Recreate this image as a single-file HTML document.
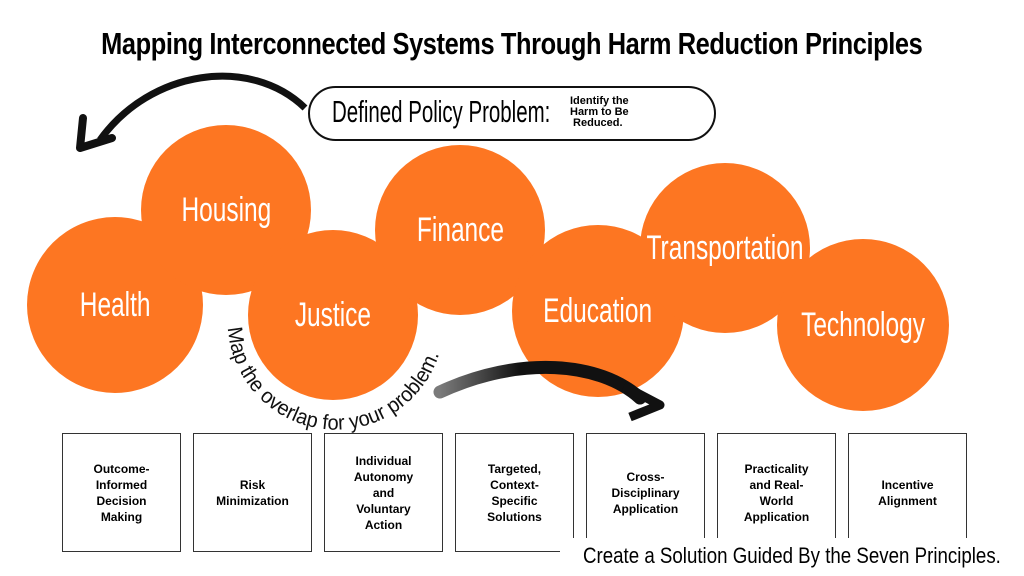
<!DOCTYPE html>
<html><head><meta charset="utf-8"><style>
body{margin:0;width:1024px;height:576px;background:#fff;overflow:hidden;position:relative;font-family:"Liberation Sans",sans-serif}
.t{position:absolute;left:0;width:1024px;top:26px;text-align:center;font-weight:bold;font-size:31px;letter-spacing:-0.5px}
.t span{display:inline-block;transform:scaleX(0.82)}
.pill{position:absolute;left:308px;top:86px;width:404px;height:51px;border:2.5px solid #111;border-radius:28px}
.c{position:absolute;border-radius:50%;background:#fd7622;color:#fff;display:flex;align-items:center;justify-content:center;font-size:34px}
.c span{display:inline-block;transform:scaleX(0.72)}
.b{position:absolute;top:433px;width:117px;height:117px;border:1.5px solid #333;display:flex;align-items:center;justify-content:center;text-align:center;font-weight:bold;font-size:12px;line-height:16px}
.cap{position:absolute;left:560px;top:538px;width:460px;height:38px;background:#fff}
.cap span{position:absolute;left:23px;top:5px;font-size:22px;white-space:nowrap;display:inline-block;transform:scaleX(0.85);transform-origin:0 0}
</style></head><body>
<div class="t"><span>Mapping Interconnected Systems Through Harm Reduction Principles</span></div>
<div class="pill"></div>
<div style="position:absolute;left:332px;top:94px;font-size:31px;white-space:nowrap;transform:scaleX(0.66);transform-origin:0 0">Defined Policy Problem:</div>
<div style="position:absolute;left:570px;top:96px;font-size:11px;font-weight:bold;line-height:11px">Identify the<br>Harm to Be<br>&nbsp;Reduced.</div>
<svg width="1024" height="576" style="position:absolute;left:0;top:0">
<path d="M305 108 C250 55 150 70 100 140" stroke="#111" stroke-width="7" fill="none"/>
<path d="M83 118 L80 148 L112 138" stroke="#111" stroke-width="8" fill="none" stroke-linecap="round" stroke-linejoin="round"/>
</svg>
<div class="c" style="left:27px;top:217px;width:176px;height:176px"><span>Health</span></div>
<div class="c" style="left:141px;top:125px;width:170px;height:170px"><span>Housing</span></div>
<div class="c" style="left:248px;top:230px;width:170px;height:170px"><span>Justice</span></div>
<div class="c" style="left:375px;top:145px;width:170px;height:170px"><span>Finance</span></div>
<div class="c" style="left:512px;top:225px;width:172px;height:172px"><span>Education</span></div>
<div class="c" style="left:640px;top:163px;width:170px;height:170px"><span>Transportation</span></div>
<div class="c" style="left:777px;top:239px;width:172px;height:172px"><span>Technology</span></div>
<svg width="1024" height="576" style="position:absolute;left:0;top:0">
<defs><path id="arc" d="M228 328 A108 108 0 0 0 444 315"/>
<linearGradient id="g" x1="0" x2="1"><stop offset="0" stop-color="#222" stop-opacity="0.6"/><stop offset="0.4" stop-color="#111"/></linearGradient></defs>
<text font-family="Liberation Sans, sans-serif" font-size="21" fill="#111"><textPath href="#arc" textLength="300" lengthAdjust="spacingAndGlyphs">Map the overlap for your problem.</textPath></text>
<path d="M440 392 C520 355 600 362 640 398" stroke="url(#g)" stroke-width="13" fill="none" stroke-linecap="round"/>
<path d="M624 386 L660 405 L630 417" stroke="#111" stroke-width="9" fill="none" stroke-linejoin="round"/>
</svg>
<div class="b" style="left:62px">Outcome-<br>Informed<br>Decision<br>Making</div>
<div class="b" style="left:193px">Risk<br>Minimization</div>
<div class="b" style="left:324px">Individual<br>Autonomy<br>and<br>Voluntary<br>Action</div>
<div class="b" style="left:455px">Targeted,<br>Context-<br>Specific<br>Solutions</div>
<div class="b" style="left:586px">Cross-<br>Disciplinary<br>Application</div>
<div class="b" style="left:717px">Practicality<br>and Real-<br>World<br>Application</div>
<div class="b" style="left:848px">Incentive<br>Alignment</div>
<div class="cap"><span>Create a Solution Guided By the Seven Principles.</span></div>
</body></html>
